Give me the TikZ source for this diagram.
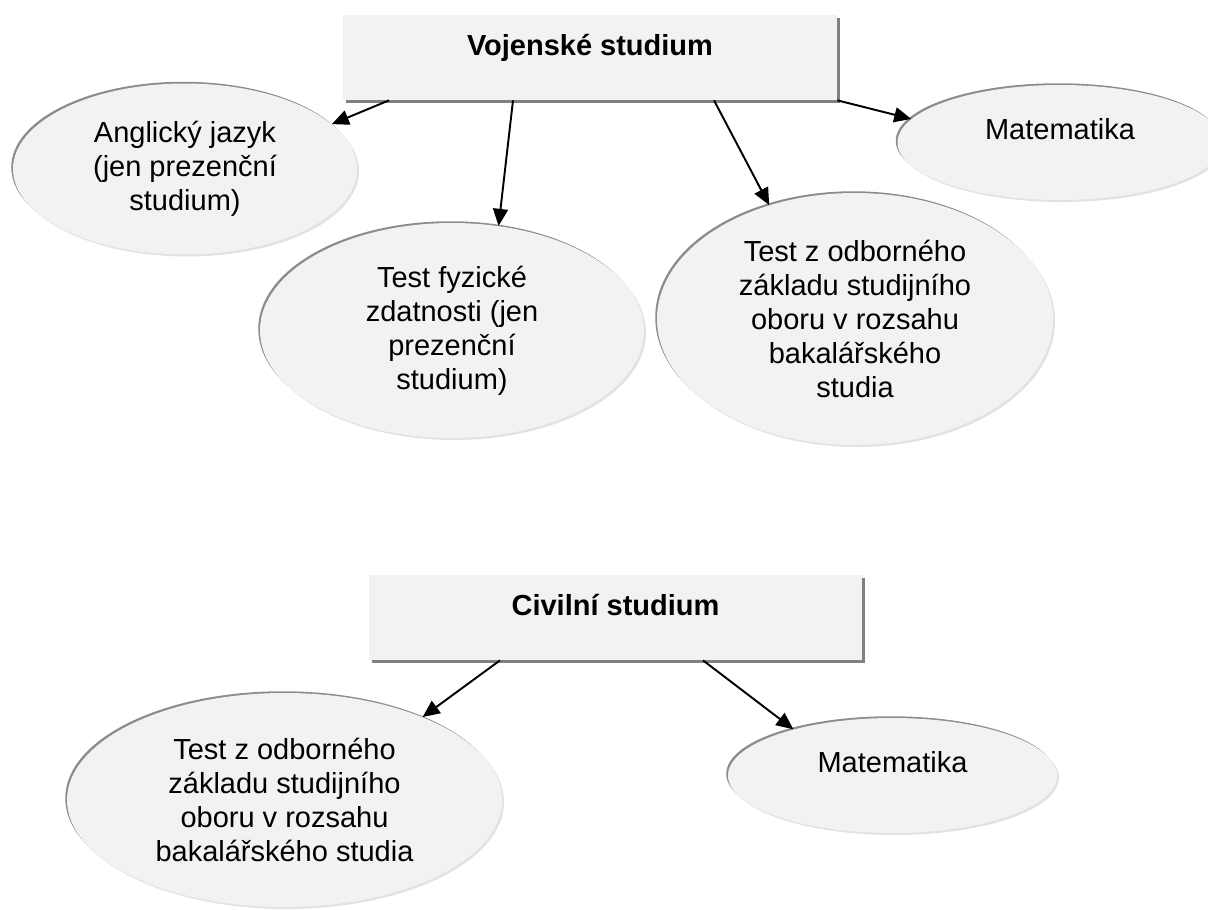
\documentclass[tikz,border=0pt]{standalone}
\usepackage{fontspec}
\setmainfont{Liberation Sans}
\usepackage{tikz}
\usepackage{xcolor}
\usetikzlibrary{shapes.geometric,shadows,arrows.meta}

\begin{document}
\begin{tikzpicture}[ovalnode/.style={ellipse,fill=paper,inner sep=0pt,align=center,
    font=\fontsize{16.5}{19.3}\selectfont,
    general shadow={fill=rimgrey,shadow xshift=-0.035cm,shadow yshift=0.035cm},
    general shadow={fill=softgrey,shadow xshift=0.04cm,shadow yshift=-0.04cm}},
  boxnode/.style={rectangle,fill=paper,inner ysep=0pt,text height=0.81cm,text depth=0.89cm,
    font=\fontsize{16.5}{19.3}\selectfont\bfseries,
    general shadow={fill=boxgrey,shadow xshift=0.06cm,shadow yshift=-0.06cm}},
  link/.style={line width=1.1pt,-{Triangle[length=0.34cm,width=0.3cm]}}]
\definecolor{paper}{HTML}{F2F2F2}
\definecolor{rimgrey}{HTML}{8C8C8C}
\definecolor{softgrey}{HTML}{E2E2E2}
\definecolor{boxgrey}{HTML}{808080}
\useasboundingbox (0,0) rectangle (24.16,-18.18);

% upper part
\node [boxnode,minimum width=9.88cm] (vs) at (11.8,-1.15) {Vojenské studium};
\node [ovalnode,minimum width=6.88cm,minimum height=3.42cm] (ang) at (3.7,-3.38)
  {Anglický jazyk\\(jen prezenční\\studium)};
\node [ovalnode,minimum width=7.68cm,minimum height=4.3cm] (fyz) at (9.04,-6.61)
  {Test fyzické\\zdatnosti (jen\\prezenční\\studium)};
\node [ovalnode,minimum width=7.92cm,minimum height=5.04cm] (odb) at (17.1,-6.38)
  {Test z odborného\\základu studijního\\oboru v rozsahu\\bakalářského\\studia};
\node [ovalnode,minimum width=6.5cm,minimum height=2.3cm,text height=0.45cm,text depth=0.59cm] (mat) at (21.2,-2.85)
  {Matematika};

\draw [link] ([xshift=-4.02cm]vs.south) -- (ang.17);
\draw [link] ([xshift=-1.54cm]vs.south) -- (fyz.66);
\draw [link] ([xshift=2.48cm]vs.south) -- (odb.127);
\draw [link] (vs.south east) -- (mat.171);

% lower part
\node [boxnode,minimum width=9.86cm] (cs) at (12.31,-12.35) {Civilní studium};
\node [ovalnode,minimum width=8.7cm,minimum height=4.28cm] (odbc) at (5.69,-16.0)
  {Test z odborného\\základu studijního\\oboru v rozsahu\\bakalářského studia};
\node [ovalnode,minimum width=6.58cm,minimum height=2.3cm,text height=0.45cm,text depth=0.59cm] (matc) at (17.85,-15.51)
  {Matematika};

\draw [link] ([xshift=-2.31cm]cs.south) -- (odbc.31);
\draw [link] ([xshift=1.75cm]cs.south) -- (matc.155);
\end{tikzpicture}
\end{document}
